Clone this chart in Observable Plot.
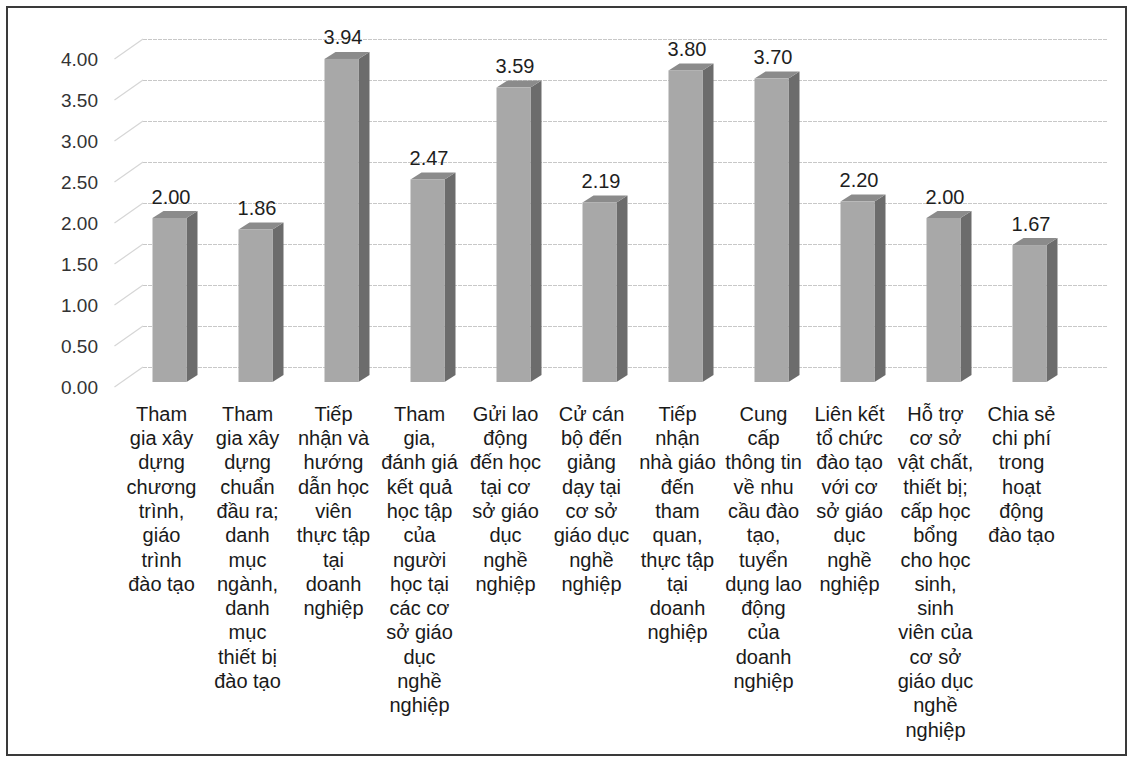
<!DOCTYPE html>
<html>
<head>
<meta charset="utf-8">
<script src="https://cdn.jsdelivr.net/npm/d3@7"></script>
<script src="https://cdn.jsdelivr.net/npm/@observablehq/plot@0.6"></script>
<style>
  html, body { margin: 0; padding: 0; background: #ffffff; }
  #wrap { position: relative; width: 1131px; height: 758px; overflow: hidden; }
  #frame { position: absolute; left: 6px; top: 6px; width: 1121px; height: 750px; box-sizing: border-box; border: 2px solid #3a3a3a; pointer-events: none; }
  #chart { position: absolute; left: 0; top: 0; }
</style>
</head>
<body>
<div id="wrap"><div id="chart"></div><div id="frame"></div></div>
<script>
const categories = [
  "Tham\ngia xây\ndựng\nchương\ntrình,\ngiáo\ntrình\nđào tạo",
  "Tham\ngia xây\ndựng\nchuẩn\nđầu ra;\ndanh\nmục\nngành,\ndanh\nmục\nthiết bị\nđào tạo",
  "Tiếp\nnhận và\nhướng\ndẫn học\nviên\nthực tập\ntại\ndoanh\nnghiệp",
  "Tham\ngia,\nđánh giá\nkết quả\nhọc tập\ncủa\nngười\nhọc tại\ncác cơ\nsở giáo\ndục\nnghề\nnghiệp",
  "Gửi lao\nđộng\nđến học\ntại cơ\nsở giáo\ndục\nnghề\nnghiệp",
  "Cử cán\nbộ đến\ngiảng\ndạy tại\ncơ sở\ngiáo dục\nnghề\nnghiệp",
  "Tiếp\nnhận\nnhà giáo\nđến\ntham\nquan,\nthực tập\ntại\ndoanh\nnghiệp",
  "Cung\ncấp\nthông tin\nvề nhu\ncầu đào\ntạo,\ntuyển\ndụng lao\nđộng\ncủa\ndoanh\nnghiệp",
  "Liên kết\ntổ chức\nđào tạo\nvới cơ\nsở giáo\ndục\nnghề\nnghiệp",
  "Hỗ trợ\ncơ sở\nvật chất,\nthiết bị;\ncấp học\nbổng\ncho học\nsinh,\nsinh\nviên của\ncơ sở\ngiáo dục\nnghề\nnghiệp",
  "Chia sẻ\nchi phí\ntrong\nhoạt\nđộng\nđào tạo"
];
const values = [2.00, 1.86, 3.94, 2.47, 3.59, 2.19, 3.80, 3.70, 2.20, 2.00, 1.67];
const yTicks = [0, 0.5, 1, 1.5, 2, 2.5, 3, 3.5, 4];

const data = categories.map((c, i) => ({cat: c, value: values[i]}));

const BAR_DX = 8.5;   // front face shift from label centre
const DEPTH_X = 11, DEPTH_Y = 7;

function facesRender(index, scales, vals) {
  const bw = scales.x.bandwidth();
  const g = d3.create("svg:g");
  for (const i of index) {
    const x0 = vals.x[i] + BAR_DX;
    const x1 = x0 + bw;
    const yt = Math.min(vals.y1[i], vals.y2[i]);
    const yb = Math.max(vals.y1[i], vals.y2[i]);
    g.append("polygon")
      .attr("points", [[x1, yb], [x1 + DEPTH_X, yb - DEPTH_Y], [x1 + DEPTH_X, yt - DEPTH_Y], [x1, yt]].map(p => p.join(",")).join(" "))
      .attr("fill", "#6c6c6c");
    g.append("polygon")
      .attr("points", [[x0, yt], [x0 + DEPTH_X, yt - DEPTH_Y], [x1 + DEPTH_X, yt - DEPTH_Y], [x1, yt]].map(p => p.join(",")).join(" "))
      .attr("fill", "#8b8b8b");
  }
  return g.node();
}

function wallRender(index, scales, vals, dims) {
  const g = d3.create("svg:g").attr("stroke", "#d6d6d6").attr("stroke-width", 1.2);
  for (const i of index) {
    const y = vals.y[i];
    g.append("line")
      .attr("x1", dims.marginLeft + 1).attr("y1", y + 5)
      .attr("x2", dims.marginLeft + 29.5).attr("y2", y - 15);
  }
  return g.node();
}

const chart = Plot.plot({
  width: 1131,
  height: 758,
  marginLeft: 113.5,
  marginRight: 61.5,
  marginTop: 54,
  marginBottom: 376,
  style: {fontFamily: "'Liberation Sans', Arial, sans-serif", background: "transparent", overflow: "visible"},
  x: {domain: categories, paddingInner: 0.6, paddingOuter: 0.3, axis: null},
  y: {domain: [0, 4], axis: null, label: null},
  marks: [
    Plot.ruleY(yTicks, {dy: -15, insetLeft: 29.5, insetRight: -37.5, stroke: "#c8c8c8", strokeWidth: 1.2, strokeDasharray: "4,1"}),
    Plot.ruleY(yTicks, {render: wallRender}),
    Plot.barY(data, {x: "cat", y: "value", render: facesRender}),
    Plot.barY(data, {x: "cat", y: "value", dx: BAR_DX, fill: "#a8a8a8"}),
    Plot.text(data, {x: "cat", y: "value", text: d => d.value.toFixed(2), dx: BAR_DX + 1, dy: -15, lineAnchor: "bottom", fontSize: 20, fill: "#1e1e1e"}),
    Plot.text(data, {x: "cat", text: "cat", frameAnchor: "bottom", lineAnchor: "top", dy: 21, fontSize: 20, lineHeight: 1.215, fill: "#1a1a1a"}),
    Plot.axisY({ticks: yTicks, tickFormat: d => d.toFixed(2), tickSize: 0, tickPadding: 16, dy: 5, fontSize: 19, color: "#333", label: null})
  ]
});
document.getElementById("chart").appendChild(chart);
</script>
</body>
</html>
